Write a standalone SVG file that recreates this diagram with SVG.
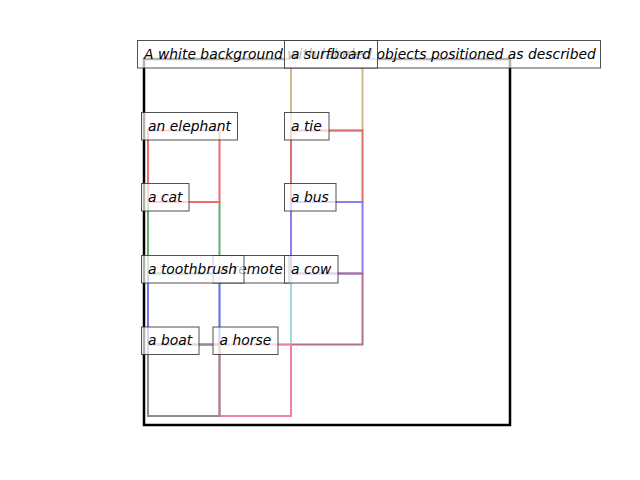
<svg xmlns="http://www.w3.org/2000/svg" width="640" height="480" viewBox="0 0 640 480">
<style>
.frame{fill:none;stroke:#000;stroke-width:2.5}
.obj{fill:none;stroke-width:2}
.lb rect{fill:#fff;fill-opacity:0.7;stroke:#333;stroke-opacity:0.85;stroke-width:1}
.lb text{font-family:"DejaVu Sans",sans-serif;font-style:italic;font-size:13.9px;fill:#000}
</style>
<rect width="640" height="480" fill="#fff"/>
<rect class="frame" x="144" y="59" width="366" height="366"/>
<g id="connectors">
<rect id="surfboard" class="obj" x="291" y="59" width="71.5" height="71.5" stroke="#ccbc84"/>
<rect id="tie" class="obj" x="291" y="130.5" width="71.5" height="71.5" stroke="#d8726a"/>
<rect id="bus" class="obj" x="291" y="202" width="71.5" height="71.5" stroke="#8480f2"/>
<rect id="cow" class="obj" x="291" y="273.5" width="71.5" height="71" stroke="#b07090"/>
<rect id="remote" class="obj" x="219.5" y="273.5" width="71.5" height="71" stroke="#a2d8d8"/>
<rect id="toothbrush" class="obj" x="148" y="273.5" width="71.5" height="71" stroke="#7474e6"/>
<rect id="horse" class="obj" x="219.5" y="344.5" width="71.5" height="71.5" stroke="#f0809c"/>
<rect id="boat" class="obj" x="148" y="344.5" width="71.5" height="71.5" stroke="#948898"/>
<rect id="cat" class="obj" x="148" y="202" width="71.5" height="71.5" stroke="#6aaa72"/>
<rect id="elephant" class="obj" x="148" y="130.5" width="71.5" height="71.5" stroke="#ee6c6c"/>
</g>
<g id="label-title" class="lb"><rect x="137.5" y="40.5" width="463" height="27.5"/><text x="144" y="58.5">A white background with labeled objects positioned as described</text></g>
<g id="label-surfboard" class="lb"><rect x="284.5" y="40.5" width="93" height="27.5"/><text x="291" y="58.5">a surfboard</text></g>
<g id="label-elephant" class="lb"><rect x="141.5" y="112.5" width="96" height="27.5"/><text x="148" y="130.5">an elephant</text></g>
<g id="label-tie" class="lb"><rect x="284.5" y="112.5" width="44.5" height="27.5"/><text x="291" y="130.5">a tie</text></g>
<g id="label-cat" class="lb"><rect x="141.5" y="183.5" width="47.5" height="27.5"/><text x="148" y="201.5">a cat</text></g>
<g id="label-bus" class="lb"><rect x="284.5" y="183.5" width="51.5" height="27.5"/><text x="291" y="201.5">a bus</text></g>
<g id="label-remote" class="lb"><rect x="213" y="255.5" width="76" height="27.5"/><text x="219.5" y="273.5">a remote</text></g>
<g id="label-toothbrush" class="lb"><rect x="141.5" y="255.5" width="102.5" height="27.5"/><text x="148" y="273.5">a toothbrush</text></g>
<g id="label-cow" class="lb"><rect x="284.5" y="255.5" width="53.5" height="27.5"/><text x="291" y="273.5">a cow</text></g>
<g id="label-boat" class="lb"><rect x="141.5" y="327" width="57.5" height="27.5"/><text x="148" y="345">a boat</text></g>
<g id="label-horse" class="lb"><rect x="213" y="327" width="65" height="27.5"/><text x="219.5" y="345">a horse</text></g>
</svg>
